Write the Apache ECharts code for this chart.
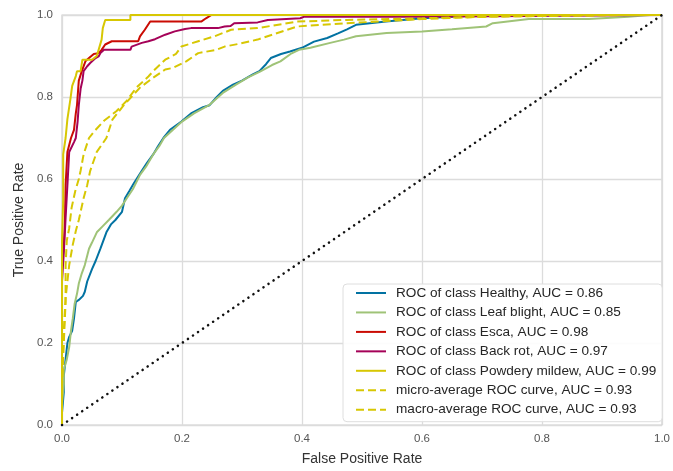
<!DOCTYPE html>
<html><head><meta charset="utf-8">
<script src="https://cdn.jsdelivr.net/npm/echarts@6/dist/echarts.min.js"></script>
<style>html,body{margin:0;padding:0;background:#fff}#c{width:673px;height:471px}</style>
</head><body><div id="c"></div>
<script>
var seriesNames = [
  'ROC of class Healthy, AUC = 0.86',
  'ROC of class Leaf blight, AUC = 0.85',
  'ROC of class Esca, AUC = 0.98',
  'ROC of class Back rot, AUC = 0.97',
  'ROC of class Powdery mildew, AUC = 0.99',
  'micro-average ROC curve, AUC = 0.93',
  'macro-average ROC curve, AUC = 0.93'
];
var xTicks = [0, 0.2, 0.4, 0.6, 0.8, 1.0];
var yTicks = [0, 0.2, 0.4, 0.6, 0.8, 1.0];

var healthy = [[0,0],[0,0.03],[0.003,0.08],[0.003,0.12],[0.006,0.16],[0.009,0.2],[0.012,0.215],[0.017,0.23],[0.02,0.26],[0.023,0.3],[0.028,0.305],[0.035,0.315],[0.038,0.325],[0.042,0.35],[0.05,0.38],[0.056,0.4],[0.064,0.43],[0.074,0.47],[0.082,0.49],[0.089,0.5],[0.1,0.52],[0.105,0.553],[0.112,0.57],[0.12,0.59],[0.133,0.62],[0.142,0.64],[0.152,0.66],[0.16,0.68],[0.169,0.70],[0.18,0.72],[0.199,0.74],[0.215,0.76],[0.235,0.775],[0.246,0.78],[0.258,0.8],[0.268,0.815],[0.285,0.83],[0.30,0.84],[0.318,0.855],[0.329,0.863],[0.34,0.88],[0.348,0.895],[0.365,0.905],[0.38,0.911],[0.40,0.92],[0.42,0.935],[0.442,0.944],[0.46,0.955],[0.475,0.965],[0.49,0.976],[0.54,0.984],[0.6,0.992],[0.65,0.996],[0.7,1.0],[1,1]];
var leafBlight = [[0,0],[0,0.05],[0.003,0.1],[0.003,0.135],[0.008,0.16],[0.012,0.19],[0.015,0.23],[0.018,0.26],[0.021,0.295],[0.025,0.32],[0.028,0.345],[0.033,0.37],[0.038,0.39],[0.045,0.43],[0.05,0.445],[0.058,0.47],[0.068,0.485],[0.078,0.5],[0.091,0.52],[0.1,0.535],[0.108,0.553],[0.118,0.575],[0.13,0.61],[0.14,0.63],[0.152,0.66],[0.162,0.68],[0.17,0.70],[0.185,0.72],[0.2,0.74],[0.22,0.76],[0.245,0.78],[0.268,0.81],[0.29,0.83],[0.31,0.848],[0.33,0.862],[0.35,0.878],[0.364,0.887],[0.381,0.905],[0.395,0.915],[0.414,0.92],[0.447,0.932],[0.47,0.94],[0.49,0.948],[0.541,0.956],[0.6,0.96],[0.65,0.965],[0.707,0.972],[0.718,0.98],[0.778,0.99],[0.878,0.99],[0.944,0.996],[0.98,1],[1,1]];
var esca = [[0,0],[0,0.4],[0.003,0.43],[0.005,0.505],[0.006,0.585],[0.009,0.666],[0.015,0.70],[0.02,0.72],[0.023,0.76],[0.025,0.78],[0.028,0.84],[0.033,0.863],[0.039,0.887],[0.045,0.895],[0.053,0.905],[0.061,0.907],[0.066,0.915],[0.072,0.928],[0.083,0.936],[0.127,0.936],[0.13,0.948],[0.138,0.964],[0.147,0.984],[0.232,0.984],[0.24,0.992],[0.249,1],[1,1]];
var backRot = [[0,0],[0,0.35],[0.003,0.42],[0.006,0.505],[0.009,0.585],[0.012,0.666],[0.02,0.69],[0.023,0.70],[0.026,0.74],[0.028,0.78],[0.031,0.82],[0.034,0.84],[0.036,0.863],[0.042,0.875],[0.047,0.883],[0.056,0.895],[0.061,0.899],[0.064,0.907],[0.07,0.915],[0.114,0.915],[0.116,0.923],[0.133,0.932],[0.144,0.936],[0.155,0.941],[0.172,0.952],[0.188,0.96],[0.205,0.966],[0.215,0.968],[0.26,0.968],[0.271,0.972],[0.281,0.973],[0.287,0.98],[0.326,0.982],[0.343,0.988],[0.397,0.992],[0.404,0.996],[0.6,0.996],[0.6,1],[1,1]];
var powdery = [[0,0],[0,0.45],[0.002,0.55],[0.002,0.66],[0.006,0.70],[0.009,0.746],[0.014,0.795],[0.017,0.827],[0.023,0.851],[0.025,0.863],[0.031,0.863],[0.034,0.891],[0.05,0.891],[0.058,0.9],[0.061,0.915],[0.066,0.94],[0.068,0.968],[0.072,0.988],[0.114,0.988],[0.114,1],[1,1]];
var microAvg = [[0,0],[0,0.1],[0.003,0.2],[0.006,0.3],[0.006,0.39],[0.008,0.45],[0.012,0.48],[0.016,0.53],[0.022,0.57],[0.028,0.6],[0.031,0.62],[0.036,0.66],[0.045,0.70],[0.053,0.715],[0.07,0.742],[0.091,0.766],[0.108,0.791],[0.124,0.823],[0.144,0.85],[0.152,0.863],[0.172,0.891],[0.19,0.905],[0.199,0.923],[0.227,0.936],[0.254,0.948],[0.282,0.964],[0.326,0.968],[0.392,0.984],[0.475,0.988],[0.6,0.992],[0.707,0.996],[0.944,1],[1,1]];
var macroAvg = [[0,0],[0,0.1],[0.003,0.23],[0.006,0.31],[0.012,0.39],[0.018,0.44],[0.023,0.473],[0.028,0.5],[0.036,0.553],[0.042,0.585],[0.047,0.62],[0.058,0.666],[0.074,0.70],[0.084,0.745],[0.103,0.78],[0.13,0.823],[0.152,0.847],[0.172,0.867],[0.185,0.871],[0.207,0.887],[0.227,0.907],[0.257,0.915],[0.271,0.923],[0.296,0.93],[0.326,0.94],[0.392,0.972],[0.475,0.98],[0.6,0.99],[0.707,0.996],[0.944,1],[1,1]];
var diagonal = [[0,0],[1,1]];

var seriesData = [healthy, leafBlight, esca, backRot, powdery, microAvg, macroAvg];
var colors = ['#0272a2', '#9fc377', '#ca0b03', '#a50258', '#d7c703', '#d7c703', '#d7c703'];
var styles = ['solid','solid','solid','solid','solid',[8,4],[8,4]];

var series = seriesData.map(function(d, i) {
  return {
    name: seriesNames[i], type: 'line', data: d, showSymbol: false, symbol: 'none',
    clip: false, animation: false, z: 2 + i,
    lineStyle: { color: colors[i], width: 2, type: styles[i] },
    itemStyle: { color: colors[i] }
  };
});
series.push({
  name: 'diag', type: 'line', data: diagonal, symbol: 'none', clip: false, animation: false, z: 20,
  lineStyle: { color: '#111', width: 2.5, type: [0.1, 6], cap: 'round' }
});

var chart = echarts.init(document.getElementById('c'), null, {renderer: 'canvas'});
var fam = '"Liberation Sans", Arial, sans-serif';
chart.setOption({
  backgroundColor: '#fff',
  textStyle: { fontFamily: fam },
  grid: { left: 62, right: 6, top: 15, bottom: 42, show: true, borderColor: '#cfcfcf', borderWidth: 1.2 },
  xAxis: {
    type: 'value', min: xTicks[0], max: xTicks[xTicks.length-1], interval: 0.2,
    name: 'False Positive Rate', nameLocation: 'middle', nameGap: 27,
    nameTextStyle: { fontSize: 14, color: '#333', fontFamily: fam },
    axisLine: { show: false }, axisTick: { show: false },
    axisLabel: { fontSize: 11.5, color: '#555', margin: 8, fontFamily: fam, formatter: function(v){ return v.toFixed(1); } },
    splitLine: { show: true, lineStyle: { color: '#dcdcdc', width: 1.3 } }
  },
  yAxis: {
    type: 'value', min: yTicks[0], max: yTicks[yTicks.length-1], interval: 0.2,
    name: 'True Positive Rate', nameLocation: 'middle', nameGap: 33,
    nameTextStyle: { fontSize: 14, color: '#333', fontFamily: fam },
    axisLine: { show: false }, axisTick: { show: false },
    axisLabel: { fontSize: 11.5, color: '#555', margin: 9, fontFamily: fam, formatter: function(v){ return v.toFixed(1); } },
    splitLine: { show: true, lineStyle: { color: '#dcdcdc', width: 1.3 } }
  },
  legend: {
    data: seriesNames, orient: 'vertical', left: 343, top: 284,
    itemWidth: 30, itemHeight: 14, itemGap: 5.45,
    itemStyle: { opacity: 0, borderWidth: 0 },
    backgroundColor: 'rgba(255,255,255,0.9)', borderColor: '#dedede', borderWidth: 1, borderRadius: 4,
    padding: [2, 6, 5, 12],
    textStyle: { fontSize: 13.6, lineHeight: 14, color: '#262626', fontFamily: fam, padding: [0,0,0,5] }
  },
  series: series
});
</script></body></html>
